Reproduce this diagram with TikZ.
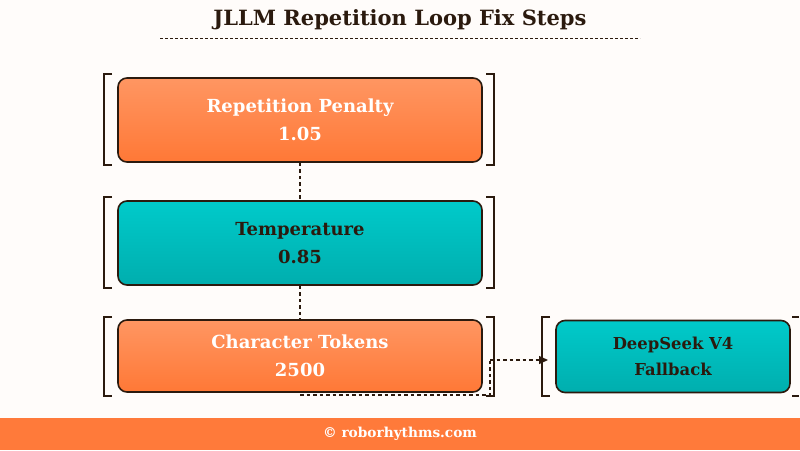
\documentclass[tikz,border=0pt]{standalone}
\usepackage{fontspec}
\setmainfont{DejaVu Serif}
\usetikzlibrary{arrows.meta}
\definecolor{bg}{HTML}{FFFCFA}
\definecolor{ink}{HTML}{2B1A0E}
\definecolor{orT}{HTML}{FF9662}
\definecolor{orB}{HTML}{FF7836}
\definecolor{tlT}{HTML}{00CACA}
\definecolor{tlB}{HTML}{00AEAE}
\definecolor{bar}{HTML}{FF7A3A}
\tikzset{
 box/.style={draw=ink,line width=1.6pt,rounded corners=9pt,minimum height=#1,align=center,font=\bfseries\fontsize{18}{28}\selectfont,inner sep=0pt},
 ob/.style={top color=orT,bottom color=orB,text=white},
 tb/.style={top color=tlT,bottom color=tlB,text=ink},
 brk/.style={draw=ink,line width=1.4pt},
 dsh/.style={draw=ink,line width=1.4pt,dash pattern=on 3.5pt off 3pt},
}
\begin{document}
\begin{tikzpicture}[x=1pt,y=-1pt]
\useasboundingbox (0,0) rectangle (800,450);
\fill[bg] (0,0) rectangle (800,450);
\node[font=\bfseries\fontsize{21}{24}\selectfont,text=ink] (title) at (400,20) {JLLM Repetition Loop Fix Steps};
\draw[dsh,line width=1pt,dash pattern=on 3pt off 2pt] (160,38) -- (640,38);
% brackets
\foreach \t/\b in {74/165,197/288,317/396}{
 \draw[brk] (112,\t) -- (104,\t) -- (104,\b) -- (112,\b);
 \draw[brk] (486,\t) -- (494,\t) -- (494,\b) -- (486,\b);
}
\draw[brk] (550,317) -- (542,317) -- (542,396) -- (550,396);
\draw[brk] (792,317) -- (799,317);
\draw[brk] (792,396) -- (799,396);
\node[box=84pt,ob,minimum width=364pt] (a) at (300,120) {Repetition Penalty\\1.05};
\node[box=84pt,tb,minimum width=364pt] (b) at (300,243) {Temperature\\0.85};
\node[box=72pt,ob,minimum width=364pt] (c) at (300,356) {Character Tokens\\2500};
\node[box=72pt,tb,minimum width=234pt,font=\bfseries\fontsize{16.4}{26}\selectfont] (d) at (673,356.5) {DeepSeek V4\\Fallback};
\draw[dsh] (a.south) -- (b.north);
\draw[dsh] (b.south) -- (c.north);
\coordinate (p1) at (300,395);
\coordinate (p2) at (490,395);
\coordinate (p3) at (490,360);
\draw[dsh] (p1) -- (p2) -- (p3);
\draw[dsh,-{Triangle[length=9pt,width=8pt]}] (p3) -- (548,360) coordinate (e);
\fill[bar] (0,418) rectangle (800,450);
\node[text=white,font=\bfseries\fontsize{13.7}{16}\selectfont] (foot) at (400,434) {© roborhythms.com};
\end{tikzpicture}
\end{document}
